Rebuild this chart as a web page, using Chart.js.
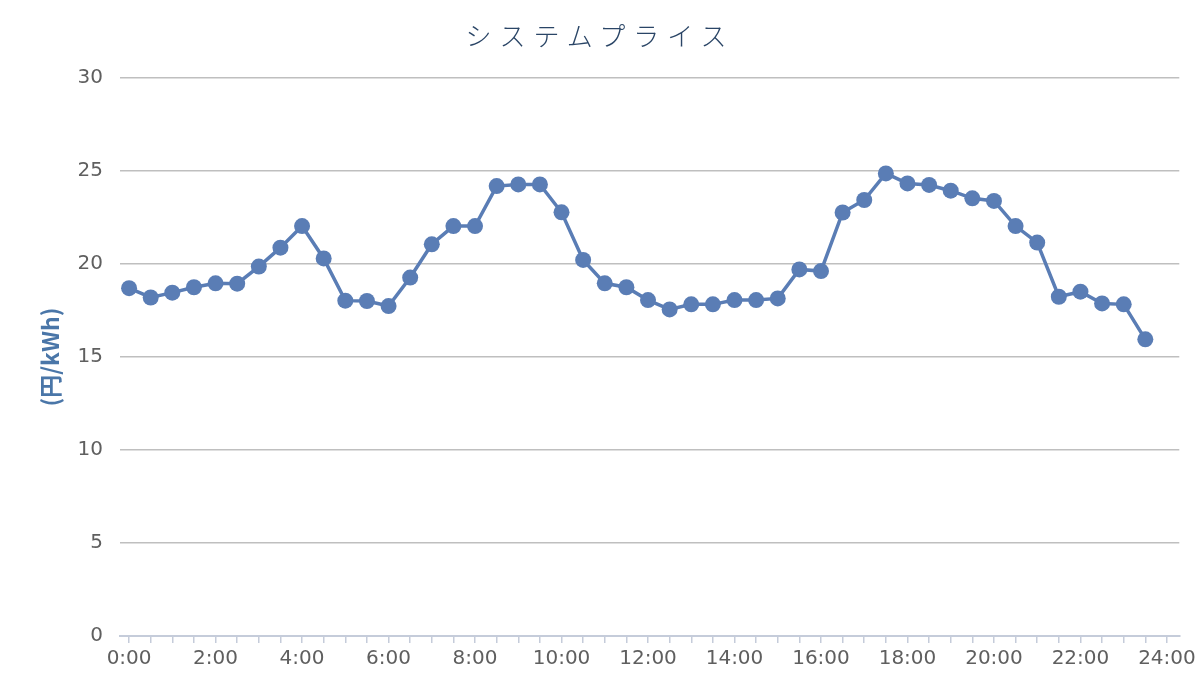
<!DOCTYPE html>
<html lang="ja">
  <head>
    <meta charset="UTF-8" />
    <title>システムプライス</title>
    <script src="https://cdn.jsdelivr.net/npm/chart.js"></script>
    <style>
      body {
        margin: 0;
        background: #ffffff;
      }
      #wrap {
        position: relative;
        width: 1200px;
        height: 700px;
      }
      #title {
        position: absolute;
        top: 16px;
        left: 0;
        width: 1200px;
        text-align: center;
        font-family: "Noto Sans CJK JP", sans-serif;
        font-weight: 300;
        font-size: 26px;
        letter-spacing: 8px;
        color: #2a4566;
      }
    </style>
  </head>
  <body>
    <div id="wrap">
      <div id="title">システムプライス</div>
      <canvas id="myChart" width="1200" height="700"></canvas>
    </div>

    <script>
      // 30分ごとのコマ
      const times = [
        "0:00", "0:30", "1:00", "1:30", "2:00", "2:30", "3:00", "3:30",
        "4:00", "4:30", "5:00", "5:30", "6:00", "6:30", "7:00", "7:30",
        "8:00", "8:30", "9:00", "9:30", "10:00", "10:30", "11:00", "11:30",
        "12:00", "12:30", "13:00", "13:30", "14:00", "14:30", "15:00", "15:30",
        "16:00", "16:30", "17:00", "17:30", "18:00", "18:30", "19:00", "19:30",
        "20:00", "20:30", "21:00", "21:30", "22:00", "22:30", "23:00", "23:30",
      ];
      // システムプライス (円/kWh)
      const prices = [
        18.7, 18.2, 18.46, 18.75, 18.96, 18.94, 19.86, 20.88,
        22.04, 20.3, 18.03, 18.01, 17.74, 19.27, 21.06, 22.04,
        22.04, 24.19, 24.28, 24.28, 22.78, 20.22, 18.96, 18.75,
        18.06, 17.56, 17.83, 17.83, 18.06, 18.06, 18.15, 19.71,
        19.62, 22.77, 23.44, 24.87, 24.33, 24.25, 23.94, 23.53,
        23.39, 22.04, 21.15, 18.24, 18.51, 17.88, 17.83, 15.95,
      ];
      const xTickLabels = [
        "0:00", "2:00", "4:00", "6:00", "8:00", "10:00", "12:00",
        "14:00", "16:00", "18:00", "20:00", "22:00", "24:00",
      ];
      const yTicks = [0, 5, 10, 15, 20, 25, 30];

      const blue = "#5a7db5";
      const tickFont = { family: "DejaVu Sans", size: 20 };

      const ctx = document.getElementById("myChart");
      new Chart(ctx, {
        type: "line",
        data: {
          datasets: [
            {
              label: "システムプライス",
              data: prices.map((v, i) => ({ x: i, y: v })),
              borderColor: blue,
              backgroundColor: blue,
              borderWidth: 3.5,
              pointRadius: 8,
              pointBorderWidth: 0,
              pointBackgroundColor: blue,
              tension: 0,
            },
          ],
        },
        options: {
          responsive: false,
          animation: false,
          layout: {
            padding: { top: 78, left: 36, right: 20, bottom: 0 },
          },
          plugins: {
            legend: { display: false },
            tooltip: { enabled: false },
          },
          scales: {
            x: {
              type: "linear",
              min: -0.42,
              max: 48.57,
              afterFit: (scale) => {
                scale.height = 64;
              },
              ticks: {
                stepSize: 1,
                includeBounds: false,
                autoSkip: false,
                maxRotation: 0,
                padding: 4,
                color: "#5f5f5f",
                font: tickFont,
                callback: (value) =>
                  value % 4 === 0 ? xTickLabels[value / 4] : "",
              },
              grid: {
                drawOnChartArea: false,
                drawTicks: true,
                tickLength: 7,
                color: "#c5ccda",
                lineWidth: 1.5,
              },
              border: { display: true, color: "#c5ccda", width: 2 },
            },
            y: {
              min: 0,
              max: 30,
              afterFit: (scale) => {
                scale.width = 84;
              },
              afterBuildTicks: (scale) => {
                scale.ticks = yTicks.map((v) => ({ value: v }));
              },
              ticks: {
                padding: 17,
                color: "#5f5f5f",
                font: tickFont,
              },
              grid: {
                drawTicks: false,
                color: (c) => (c.tick.value === 0 ? "rgba(0,0,0,0)" : "#bfbfbf"),
                lineWidth: 1.5,
              },
              border: { display: false },
              title: {
                display: true,
                text: "(円/kWh)",
                color: "#4a76a8",
                padding: 0,
                font: { family: "Noto Sans CJK JP", size: 23, weight: "bold" },
              },
            },
          },
        },
      });
    </script>
  </body>
</html>
